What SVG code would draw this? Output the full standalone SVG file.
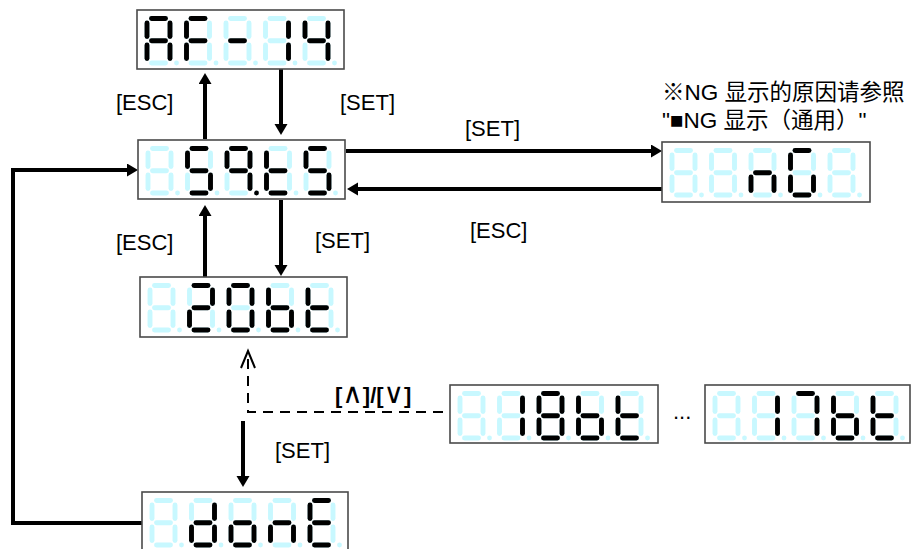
<svg xmlns="http://www.w3.org/2000/svg" xmlns:xlink="http://www.w3.org/1999/xlink" width="911" height="549" viewBox="0 0 911 549">
<style>
.box{fill:#fff;stroke:#4a4a4a;stroke-width:1.6}
.seg{stroke-width:4.9;stroke-linecap:round;fill:none}
.off{stroke:#c8f8ff;fill:#c8f8ff}
.on{stroke:#000;fill:#000}
.lbl{font-family:"Liberation Sans",Arial,sans-serif;font-size:22px;fill:#000}
.cjk{font-family:"Liberation Sans","Noto Sans CJK SC",sans-serif;font-size:22.5px;fill:#000}
.arr{stroke:#000;stroke-width:4;fill:none}
.dash{stroke:#000;stroke-width:2;fill:none;stroke-dasharray:10 7}
.sym{font-weight:normal;font-family:"DejaVu Sans",sans-serif;font-size:28px}
</style>
<defs>
<path id="sa" class="seg" d="M4.5,0H18.5"/>
<path id="sb" class="seg" d="M23,4.5V18"/>
<path id="sc" class="seg" d="M23,26.5V40"/>
<path id="sd" class="seg" d="M4.5,44.5H18.5"/>
<path id="se" class="seg" d="M0,26.5V40"/>
<path id="sf" class="seg" d="M0,4.5V18"/>
<path id="sg" class="seg" d="M4.5,22.25H18.5"/>
<circle id="dp" cx="29.5" cy="44.5" r="2.4" stroke="none"/>
<g id="d8">
<use href="#sa"/><use href="#sb"/><use href="#sc"/><use href="#sd"/><use href="#se"/><use href="#sf"/><use href="#sg"/><use href="#dp"/>
</g>
<marker id="ah" markerUnits="userSpaceOnUse" markerWidth="12" markerHeight="14" refX="0" refY="6.5" orient="auto">
<path d="M0,0L11,6.5L0,13z" fill="#000"/>
</marker>
</defs>

<g id="connectors">
<line class="arr" x1="205" y1="139" x2="205" y2="84" marker-end="url(#ah)"/>
<line class="arr" x1="281" y1="69" x2="281" y2="124" marker-end="url(#ah)"/>
<line class="arr" x1="205" y1="277" x2="205" y2="216" marker-end="url(#ah)"/>
<line class="arr" x1="281" y1="200" x2="281" y2="265" marker-end="url(#ah)"/>
<line class="arr" x1="346" y1="151" x2="651" y2="151" marker-end="url(#ah)"/>
<line class="arr" x1="662" y1="189" x2="358" y2="189" marker-end="url(#ah)"/>
<polyline class="arr" points="142,523 13,523 13,170 127,170" marker-end="url(#ah)"/>
<line class="arr" x1="243" y1="421" x2="243" y2="476" marker-end="url(#ah)"/>
<polyline class="dash" points="443,412 248,412 248,354"/>
<polyline points="241,368 248,351 255,368" fill="none" stroke="#000" stroke-width="2"/>
</g>

<g id="labels">
<text class="lbl" x="116" y="110">[ESC]</text>
<text class="lbl" x="340" y="110">[SET]</text>
<text class="lbl" x="116" y="250">[ESC]</text>
<text class="lbl" x="315" y="248">[SET]</text>
<text class="lbl" x="465" y="136">[SET]</text>
<text class="lbl" x="470" y="238">[ESC]</text>
<text class="lbl" x="275" y="458">[SET]</text>
<text class="lbl" x="335" y="403" font-weight="bold">[<tspan class="sym">∧</tspan>]/[<tspan class="sym">∨</tspan>]</text>
<text class="lbl" x="673" y="419">...</text>
<text class="cjk" x="662" y="100">※NG 显示的原因请参照</text>
<text class="cjk" x="662" y="128">"■NG 显示（通用）"</text>
</g>

<g id="node-af14">
<rect class="box" x="137" y="10" width="207" height="59"/>
<g transform="translate(147,18.5)"><use href="#d8" class="off"/><use href="#sa" class="on"/><use href="#sb" class="on"/><use href="#sc" class="on"/><use href="#se" class="on"/><use href="#sf" class="on"/><use href="#sg" class="on"/></g>
<g transform="translate(186.5,18.5)"><use href="#d8" class="off"/><use href="#sa" class="on"/><use href="#se" class="on"/><use href="#sf" class="on"/><use href="#sg" class="on"/></g>
<g transform="translate(226,18.5)"><use href="#d8" class="off"/><use href="#sg" class="on"/></g>
<g transform="translate(265.5,18.5)"><use href="#d8" class="off"/><use href="#sb" class="on"/><use href="#sc" class="on"/></g>
<g transform="translate(305,18.5)"><use href="#d8" class="off"/><use href="#sb" class="on"/><use href="#sc" class="on"/><use href="#sf" class="on"/><use href="#sg" class="on"/></g>
</g>

<g id="node-s9t5">
<rect class="box" x="138" y="140" width="207" height="59"/>
<g transform="translate(148,148.5)"><use href="#d8" class="off"/></g>
<g transform="translate(187.5,148.5)"><use href="#d8" class="off"/><use href="#sa" class="on"/><use href="#sf" class="on"/><use href="#sg" class="on"/><use href="#sc" class="on"/><use href="#sd" class="on"/></g>
<g transform="translate(227,148.5)"><use href="#d8" class="off"/><use href="#sa" class="on"/><use href="#sb" class="on"/><use href="#sc" class="on"/><use href="#sf" class="on"/><use href="#sg" class="on"/><use href="#dp" class="on"/></g>
<g transform="translate(266.5,148.5)"><use href="#d8" class="off"/><use href="#sd" class="on"/><use href="#se" class="on"/><use href="#sf" class="on"/><use href="#sg" class="on"/></g>
<g transform="translate(306,148.5)"><use href="#d8" class="off"/><use href="#sa" class="on"/><use href="#sf" class="on"/><use href="#sg" class="on"/><use href="#sc" class="on"/><use href="#sd" class="on"/></g>
</g>

<g id="node-20bt">
<rect class="box" x="140" y="277" width="207" height="60"/>
<g transform="translate(150,285.5)"><use href="#d8" class="off"/></g>
<g transform="translate(189.5,285.5)"><use href="#d8" class="off"/><use href="#sa" class="on"/><use href="#sb" class="on"/><use href="#sg" class="on"/><use href="#se" class="on"/><use href="#sd" class="on"/></g>
<g transform="translate(229,285.5)"><use href="#d8" class="off"/><use href="#sa" class="on"/><use href="#sb" class="on"/><use href="#sc" class="on"/><use href="#sd" class="on"/><use href="#se" class="on"/><use href="#sf" class="on"/></g>
<g transform="translate(268.5,285.5)"><use href="#d8" class="off"/><use href="#sc" class="on"/><use href="#sd" class="on"/><use href="#se" class="on"/><use href="#sf" class="on"/><use href="#sg" class="on"/></g>
<g transform="translate(308,285.5)"><use href="#d8" class="off"/><use href="#sd" class="on"/><use href="#se" class="on"/><use href="#sf" class="on"/><use href="#sg" class="on"/></g>
</g>

<g id="node-done">
<rect class="box" x="142" y="492" width="206" height="60"/>
<g transform="translate(152,500.5)"><use href="#d8" class="off"/></g>
<g transform="translate(191.5,500.5)"><use href="#d8" class="off"/><use href="#sb" class="on"/><use href="#sc" class="on"/><use href="#sd" class="on"/><use href="#se" class="on"/><use href="#sg" class="on"/></g>
<g transform="translate(231,500.5)"><use href="#d8" class="off"/><use href="#sc" class="on"/><use href="#sd" class="on"/><use href="#se" class="on"/><use href="#sg" class="on"/></g>
<g transform="translate(270.5,500.5)"><use href="#d8" class="off"/><use href="#sc" class="on"/><use href="#se" class="on"/><use href="#sg" class="on"/></g>
<g transform="translate(310,500.5)"><use href="#d8" class="off"/><use href="#sa" class="on"/><use href="#sd" class="on"/><use href="#se" class="on"/><use href="#sf" class="on"/><use href="#sg" class="on"/></g>
</g>

<g id="node-ng">
<rect class="box" x="662" y="142" width="208" height="60"/>
<g transform="translate(672,150.5)"><use href="#d8" class="off"/></g>
<g transform="translate(711.5,150.5)"><use href="#d8" class="off"/></g>
<g transform="translate(751,150.5)"><use href="#d8" class="off"/><use href="#sc" class="on"/><use href="#se" class="on"/><use href="#sg" class="on"/></g>
<g transform="translate(790.5,150.5)"><use href="#d8" class="off"/><use href="#sa" class="on"/><use href="#sc" class="on"/><use href="#sd" class="on"/><use href="#se" class="on"/><use href="#sf" class="on"/></g>
<g transform="translate(830,150.5)"><use href="#d8" class="off"/></g>
</g>

<g id="node-18bt">
<rect class="box" x="450" y="385" width="208" height="58"/>
<g transform="translate(460,393.5)"><use href="#d8" class="off"/></g>
<g transform="translate(499.5,393.5)"><use href="#d8" class="off"/><use href="#sb" class="on"/><use href="#sc" class="on"/></g>
<g transform="translate(539,393.5)"><use href="#d8" class="off"/><use href="#sa" class="on"/><use href="#sb" class="on"/><use href="#sc" class="on"/><use href="#sd" class="on"/><use href="#se" class="on"/><use href="#sf" class="on"/><use href="#sg" class="on"/></g>
<g transform="translate(578.5,393.5)"><use href="#d8" class="off"/><use href="#sc" class="on"/><use href="#sd" class="on"/><use href="#se" class="on"/><use href="#sf" class="on"/><use href="#sg" class="on"/></g>
<g transform="translate(618,393.5)"><use href="#d8" class="off"/><use href="#sd" class="on"/><use href="#se" class="on"/><use href="#sf" class="on"/><use href="#sg" class="on"/></g>
</g>

<g id="node-17bt">
<rect class="box" x="705" y="385" width="205" height="58"/>
<g transform="translate(715,393.5)"><use href="#d8" class="off"/></g>
<g transform="translate(754.5,393.5)"><use href="#d8" class="off"/><use href="#sb" class="on"/><use href="#sc" class="on"/></g>
<g transform="translate(794,393.5)"><use href="#d8" class="off"/><use href="#sa" class="on"/><use href="#sb" class="on"/><use href="#sc" class="on"/></g>
<g transform="translate(833.5,393.5)"><use href="#d8" class="off"/><use href="#sc" class="on"/><use href="#sd" class="on"/><use href="#se" class="on"/><use href="#sf" class="on"/><use href="#sg" class="on"/></g>
<g transform="translate(873,393.5)"><use href="#d8" class="off"/><use href="#sd" class="on"/><use href="#se" class="on"/><use href="#sf" class="on"/><use href="#sg" class="on"/></g>
</g>
</svg>
